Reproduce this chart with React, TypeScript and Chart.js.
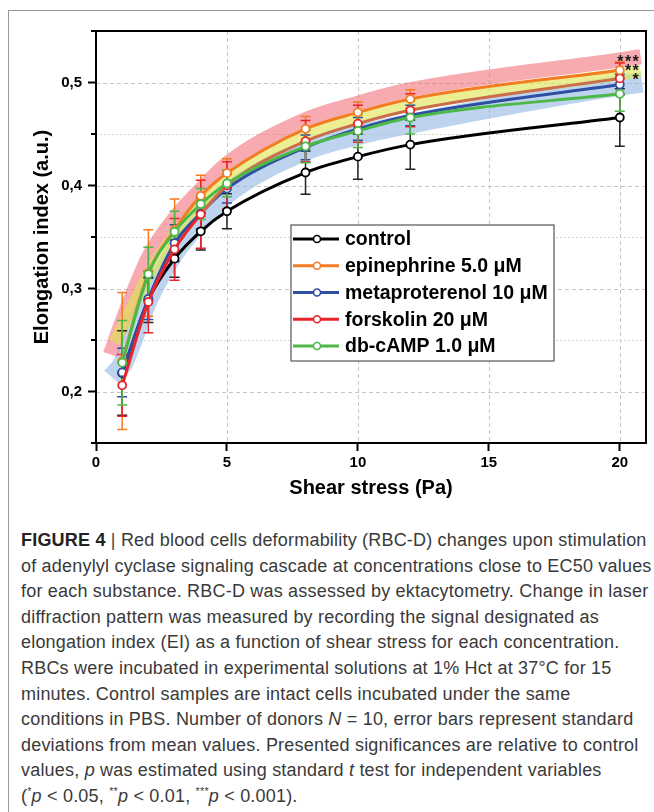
import React, { useEffect, useRef } from 'react';
import { Chart, registerables } from 'chart.js';

Chart.register(...registerables);

// ---------- data ----------
const shearStress = [1, 2, 3, 4, 5, 8, 10, 12, 20];

const controlEI = [0.218, 0.289, 0.329, 0.3555, 0.375, 0.4126, 0.428, 0.4397, 0.466];
const controlSD = [0.041, 0.022, 0.018, 0.018, 0.017, 0.021, 0.022, 0.024, 0.028];
const epinephrineEI = [0.2295, 0.315, 0.357, 0.39, 0.412, 0.455, 0.471, 0.484, 0.512];
const epinephrineSD = [0.0665, 0.042, 0.03, 0.02, 0.014, 0.012, 0.01, 0.009, 0.008];
const metaproterenolEI = [0.2185, 0.29, 0.344, 0.373, 0.397, 0.437, 0.455, 0.468, 0.498];
const metaproterenolSD = [0.0235, 0.02, 0.018, 0.015, 0.014, 0.012, 0.011, 0.01, 0.01];
const forskolinEI = [0.206, 0.287, 0.338, 0.372, 0.4, 0.443, 0.46, 0.473, 0.504];
const forskolinSD = [0.03, 0.03, 0.03, 0.033, 0.023, 0.02, 0.018, 0.016, 0.015];
const dbcampEI = [0.228, 0.314, 0.355, 0.382, 0.402, 0.438, 0.453, 0.466, 0.489];
const dbcampSD = [0.041, 0.026, 0.02, 0.015, 0.013, 0.016, 0.016, 0.016, 0.017];

const seriesNames = ['control', 'epinephrine 5.0 μM', 'metaproterenol 10 μM', 'forskolin 20 μM', 'db-cAMP 1.0 μM'];

// significance bands (***, **, *)
const band3X = [0.55, 1, 2, 3, 4, 5, 8, 10, 12, 20, 20.8];
const band3Y = [0.236, 0.268, 0.33, 0.368, 0.396, 0.421, 0.464, 0.48, 0.493, 0.522, 0.525];
const band2X = [0.7, 1, 2, 3, 4, 5, 8, 10, 12, 20, 20.8];
const band2Y = [0.248, 0.262, 0.313, 0.352, 0.381, 0.405, 0.449, 0.465, 0.478, 0.508, 0.511];
const band1X = [0.6, 1, 2, 3, 4, 5, 8, 10, 12, 20, 20.85];
const band1Y = [0.214, 0.226, 0.29, 0.335, 0.366, 0.392, 0.434, 0.449, 0.46, 0.497, 0.5];

const sigMarks = ['***', '**', '*'];
const sigRightX = [20.71, 20.71, 20.71];
const sigY = [0.524, 0.5155, 0.5065];

const xMin = 0;
const xMax = 21;
const xStep = 5;
const yMin = 0.15;
const yMax = 0.55;
const yStep = 0.05;

// ---------- styles ----------
const FONT = '"Liberation Sans", Arial, Helvetica, sans-serif';
const seriesColors = ['#000000', '#f37b21', '#2f4fa3', '#e8232a', '#4cb848'];
const errColors = ['#222222', '#f37b21', '#2f4fa3', '#e8232a', '#4cb848'];
const seriesOrder = [5, 2, 4, 3, 1];

const seriesValues = [controlEI, epinephrineEI, metaproterenolEI, forskolinEI, dbcampEI];
const seriesSD = [controlSD, epinephrineSD, metaproterenolSD, forskolinSD, dbcampSD];

const isMajor = (v: number) => Math.abs(v * 10 - Math.round(v * 10)) < 1e-6;

const overlayPlugin = {
  id: 'overlay',
  beforeDatasetsDraw(chart: any) {
    chart.$ebDone = false;
    const ctx = chart.ctx;
    const ca = chart.chartArea;
    const xs = chart.scales.x;
    const ys = chart.scales.y;
    ctx.save();
    ctx.lineWidth = 1;
    // vertical grid lines
    ctx.setLineDash([4, 3]);
    ctx.strokeStyle = '#c6c6c6';
    for (const t of xs.ticks) {
      if (t.value <= xMin) continue;
      const x = Math.round(xs.getPixelForValue(t.value)) + 0.5;
      ctx.beginPath();
      ctx.moveTo(x, ca.top);
      ctx.lineTo(x, ca.bottom);
      ctx.stroke();
    }
    // horizontal grid lines
    for (const t of ys.ticks) {
      if (t.value <= yMin + 1e-6 || t.value >= yMax - 1e-6) continue;
      const major = isMajor(t.value);
      ctx.setLineDash(major ? [4, 3] : [2, 2]);
      ctx.strokeStyle = major ? '#c6c6c6' : '#d2d2d2';
      const y = Math.round(ys.getPixelForValue(t.value)) + 0.5;
      ctx.beginPath();
      ctx.moveTo(ca.left, y);
      ctx.lineTo(ca.right, y);
      ctx.stroke();
    }
    ctx.restore();
  },
  beforeDatasetDraw(chart: any, args: any) {
    const ds: any = chart.data.datasets[args.index];
    if (ds.isBand || chart.$ebDone) return;
    chart.$ebDone = true;
    const ctx = chart.ctx;
    const xs = chart.scales.x;
    const ys = chart.scales.y;
    ctx.save();
    ctx.lineWidth = 1.5;
    for (let s = 0; s < seriesValues.length; s++) {
      ctx.strokeStyle = errColors[s];
      for (let j = 0; j < shearStress.length; j++) {
        const px = xs.getPixelForValue(shearStress[j]);
        const top = ys.getPixelForValue(seriesValues[s][j] + seriesSD[s][j]);
        const bot = ys.getPixelForValue(seriesValues[s][j] - seriesSD[s][j]);
        ctx.beginPath();
        ctx.moveTo(px, top);
        ctx.lineTo(px, bot);
        ctx.moveTo(px - 5, top);
        ctx.lineTo(px + 5, top);
        ctx.moveTo(px - 5, bot);
        ctx.lineTo(px + 5, bot);
        ctx.stroke();
      }
    }
    ctx.restore();
  },
  afterDatasetsDraw(chart: any) {
    const ctx = chart.ctx;
    const ca = chart.chartArea;
    const xs = chart.scales.x;
    const ys = chart.scales.y;
    ctx.save();

    // significance asterisks
    ctx.font = `bold 16px ${FONT}`;
    ctx.textAlign = 'center';
    ctx.textBaseline = 'alphabetic';
    ctx.fillStyle = '#1a1a1a';
    for (let k = 0; k < sigMarks.length; k++) {
      const right = xs.getPixelForValue(sigRightX[k]);
      const y = ys.getPixelForValue(sigY[k]) + 9;
      const n = sigMarks[k].length;
      for (let m = 0; m < n; m++) {
        ctx.fillText('*', right - 2.8 - (n - 1 - m) * 7.6, y);
      }
    }

    // minor ticks on y
    ctx.strokeStyle = '#000';
    ctx.lineWidth = 2;
    for (const t of ys.ticks) {
      if (isMajor(t.value)) continue;
      const y = ys.getPixelForValue(t.value);
      ctx.beginPath();
      ctx.moveTo(ca.left - 5, y);
      ctx.lineTo(ca.left, y);
      ctx.stroke();
    }

    // frame
    ctx.lineWidth = 2;
    ctx.strokeStyle = '#000';
    ctx.strokeRect(ca.left, ca.top, ca.right - ca.left, ca.bottom - ca.top);

    // legend
    const lx = ca.left + 195;
    const ly = ca.top + 194;
    const lw = 263;
    const lh = 136;
    ctx.fillStyle = '#fff';
    ctx.fillRect(lx, ly, lw, lh);
    ctx.strokeStyle = '#555';
    ctx.lineWidth = 1.2;
    ctx.strokeRect(lx, ly, lw, lh);
    ctx.font = `bold 19.5px ${FONT}`;
    ctx.textAlign = 'left';
    ctx.textBaseline = 'middle';
    for (let i = 0; i < seriesNames.length; i++) {
      const cy = ly + 14 + i * 26.75;
      ctx.strokeStyle = seriesColors[i];
      ctx.lineWidth = 3;
      ctx.beginPath();
      ctx.moveTo(lx + 2, cy);
      ctx.lineTo(lx + 48, cy);
      ctx.stroke();
      ctx.beginPath();
      ctx.arc(lx + 26, cy, 3.5, 0, Math.PI * 2);
      ctx.fillStyle = '#fff';
      ctx.fill();
      ctx.lineWidth = 1.6;
      ctx.stroke();
      ctx.fillStyle = '#000';
      ctx.fillText(seriesNames[i], lx + 54, cy + 1);
    }
    ctx.restore();
  },
};

function ChartView() {
  const ref = useRef<HTMLCanvasElement | null>(null);
  useEffect(() => {
    if (!ref.current) return;
    const toPts = (xs: number[], ys: number[]) => xs.map((x, i) => ({ x, y: ys[i] }));
    const bands: any[] = [
      { data: toPts(band1X, band1Y), borderColor: 'rgba(150,186,228,0.62)', borderWidth: 20, order: 13 },
      { data: toPts(band3X, band3Y), borderColor: 'rgba(240,100,112,0.55)', borderWidth: 15, order: 12 },
      { data: toPts(band2X, band2Y), borderColor: 'rgba(222,228,80,0.62)', borderWidth: 12, order: 11 },
    ].map((b) => ({
      ...b,
      isBand: true,
      pointRadius: 0,
      borderCapStyle: 'butt',
      cubicInterpolationMode: 'monotone',
      fill: false,
    }));
    const series: any[] = seriesNames.map((name, s) => ({
      label: name,
      data: toPts(shearStress, seriesValues[s]),
      borderColor: seriesColors[s],
      borderWidth: 3,
      pointRadius: 4,
      pointBorderWidth: 1.8,
      pointBackgroundColor: '#fff',
      pointBorderColor: seriesColors[s],
      cubicInterpolationMode: 'monotone',
      fill: false,
      order: seriesOrder[s],
      segment:
        s === 3
          ? { borderColor: (c: any) => (c.p0.parsed.x >= 4 ? '#c96d4a' : seriesColors[3]) }
          : undefined,
    }));

    const chart = new Chart(ref.current, {
      type: 'line',
      data: { datasets: [...series, ...bands] },
      options: {
        responsive: false,
        animation: false,
        layout: { padding: { left: 0, top: 31, right: 8, bottom: 2 } },
        plugins: { legend: { display: false }, tooltip: { enabled: false } },
        scales: {
          x: {
            type: 'linear',
            min: xMin,
            max: xMax,
            afterFit: (scale: any) => {
              scale.height = 60;
            },
            ticks: {
              stepSize: xStep,
              includeBounds: false,
              autoSkip: false,
              maxRotation: 0,
              padding: 3,
              color: '#000',
              font: { family: FONT, size: 15, weight: 'bold' },
              callback: (v: any) => String(v),
            },
            grid: {
              drawOnChartArea: false,
              lineWidth: 1,
              tickLength: 8,
              tickWidth: 2,
              tickColor: '#000',
            },
            border: { display: false },
            title: {
              display: true,
              text: 'Shear stress (Pa)',
              color: '#000',
              font: { family: FONT, size: 20, weight: 'bold' },
              padding: { top: 0, bottom: 3 },
            },
          },
          y: {
            type: 'linear',
            min: yMin,
            max: yMax,
            afterFit: (scale: any) => {
              scale.width = 96;
            },
            ticks: {
              stepSize: yStep,
              includeBounds: true,
              autoSkip: false,
              padding: 6,
              color: '#000',
              font: { family: FONT, size: 15, weight: 'bold' },
              callback: (v: any) => (isMajor(Number(v)) ? Number(v).toFixed(1).replace('.', ',') : ''),
            },
            grid: {
              drawOnChartArea: false,
              lineWidth: 1,
              tickLength: 8,
              tickWidth: 2,
              tickColor: (c: any) => (c.tick && isMajor(c.tick.value) ? '#000' : 'rgba(0,0,0,0)'),
            },
            border: { display: false },
            title: {
              display: true,
              text: 'Elongation index (a.u.)',
              color: '#000',
              font: { family: FONT, size: 20, weight: 'bold' },
              padding: { top: 30, bottom: 0 },
            },
          },
        },
      } as any,
      plugins: [overlayPlugin as any],
    });
    return () => chart.destroy();
  }, []);
  return (
    <canvas
      ref={ref}
      width={654}
      height={505}
      style={{ position: 'absolute', left: 0, top: 0, width: 654, height: 505 }}
    />
  );
}

const I = ({ children }: { children: React.ReactNode }) => <i>{children}</i>;
const S = ({ children }: { children: React.ReactNode }) => (
  <sup style={{ fontSize: '0.6em', lineHeight: 0 }}>{children}</sup>
);

const captionLines: React.ReactNode[] = [
  <>
    <b style={{ color: '#222' }}>FIGURE 4</b> <span style={{ color: '#444' }}>|</span> Red blood cells deformability (RBC-D) changes upon stimulation
  </>,
  <>of adenylyl cyclase signaling cascade at concentrations close to EC50 values</>,
  <>for each substance. RBC-D was assessed by ektacytometry. Change in laser</>,
  <>diffraction pattern was measured by recording the signal designated as</>,
  <>elongation index (EI) as a function of shear stress for each concentration.</>,
  <>RBCs were incubated in experimental solutions at 1% Hct at 37°C for 15</>,
  <>minutes. Control samples are intact cells incubated under the same</>,
  <>
    conditions in PBS. Number of donors <I>N</I> = 10, error bars represent standard
  </>,
  <>deviations from mean values. Presented significances are relative to control</>,
  <>
    values, <I>p</I> was estimated using standard <I>t</I> test for independent variables
  </>,
  <>
    (<S>*</S>
    <I>p</I> &lt; 0.05, <S>**</S>
    <I>p</I> &lt; 0.01, <S>***</S>
    <I>p</I> &lt; 0.001).
  </>,
];

export default function App() {
  return (
    <div
      style={{
        position: 'absolute',
        left: 0,
        top: 0,
        width: 654,
        height: 812,
        overflow: 'hidden',
        background: '#fff',
      }}
    >
      <div
        style={{
          position: 'absolute',
          left: 8,
          top: 10,
          width: 660,
          height: 820,
          borderTop: '1.5px solid #9a9a9a',
          borderLeft: '1.5px solid #9a9a9a',
        }}
      />
      <ChartView />
      <div
        style={{
          position: 'absolute',
          left: 21,
          top: 528,
          fontFamily: FONT,
          fontSize: 18,
          letterSpacing: '0.2px',
          lineHeight: '25.6px',
          color: '#3a3a3a',
        }}
      >
        {captionLines.map((l, i) => (
          <div key={i} style={{ whiteSpace: 'nowrap' }}>
            {l}
          </div>
        ))}
      </div>
    </div>
  );
}
